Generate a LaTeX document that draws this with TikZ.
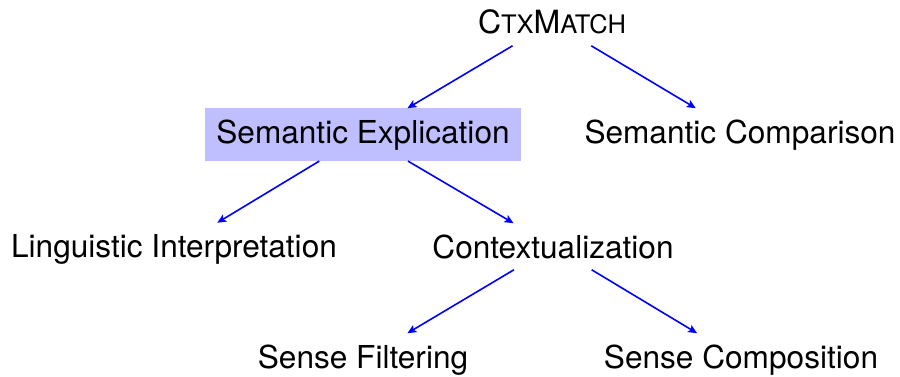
\documentclass[tikz,border=0pt]{standalone}
\usepackage{fontspec}
\setmainfont{TeX Gyre Heros}
\usetikzlibrary{arrows.meta}
\newcommand{\smallcapsize}{\fontsize{25.5}{30}\selectfont}
\begin{document}
\begin{tikzpicture}[x=1pt,y=1pt,
  concept/.style={font=\fontsize{31.6}{38}\selectfont, inner xsep=11pt, inner ysep=11pt, anchor=base},
  focus/.style={concept, fill=blue!25},
  link/.style={draw=blue, line width=1.6pt, -{Stealth[length=9pt,width=8pt,inset=2pt]}}]
\useasboundingbox (0,0) rectangle (900,376);
% system name at the root
\node[concept, font=\fontsize{32}{38}\selectfont] (ctx) at (552,342)
  {C{\smallcapsize TX}M{\smallcapsize ATCH}};
% first level
\node[focus]   (sexp) at (363,233) {Semantic Explication};
\node[concept] (scmp) at (740,233) {Semantic Comparison};
% second level
\node[concept] (ling) at (174,119) {Linguistic Interpretation};
\node[concept] (cont) at (553,118) {Contextualization};
% third level
\node[concept] (sfil) at (363,8) {Sense Filtering};
\node[concept] (scom) at (741,8) {Sense Composition};
% connectors
\draw[link] (ctx) -- (sexp);
\draw[link] (ctx) -- (scmp);
\draw[link] (sexp) -- (ling);
\draw[link] (sexp) -- (cont);
\draw[link] (cont) -- (sfil);
\draw[link] (cont) -- (scom);
\end{tikzpicture}
\end{document}
